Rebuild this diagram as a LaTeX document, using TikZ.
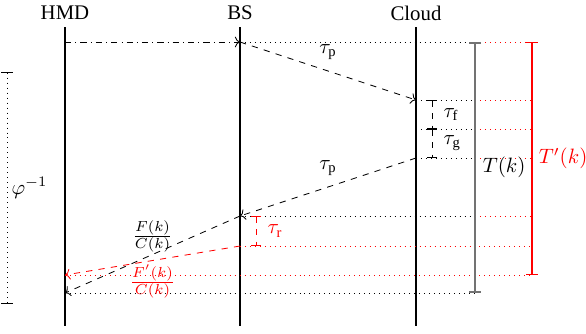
\documentclass[tikz,border=0pt]{standalone}
\usepackage{fontspec}
\setmainfont{Liberation Serif}
\usepackage{amsmath}
\usetikzlibrary{arrows.meta}

\begin{document}
\begin{tikzpicture}[
  x=0.0169cm, y=-0.0169cm,
  life/.style={semithick},
  msg/.style={->, dashed},
  guide/.style={dotted},
  rguide/.style={dotted, red},
  span/.style={{Bar[width=2mm]}-{Bar[width=2mm]}},
  tick/.style={{Bar[width=1.7mm]}-{Bar[width=1.7mm]}, dashed},
]
\useasboundingbox (0,0) rectangle (586,333);

% lifelines
\node (hmd) at (65,13) {HMD};
\node (bs) at (240,13) {BS};
\node (cloud) at (416,13) {Cloud};
\coordinate (hmdtop) at (65,27);  \coordinate (hmdbot) at (65,326);
\coordinate (bstop) at (240,27);  \coordinate (bsbot) at (240,326);
\coordinate (cltop) at (416,27);  \coordinate (clbot) at (416,326);
\draw[life] (hmdtop) -- (hmdbot);
\draw[life] (bstop) -- (bsbot);
\draw[life] (cltop) -- (clbot);

% events
\coordinate (h1) at (65,42);
\coordinate (b1) at (240,42);
\coordinate (c1) at (416,100);
\coordinate (cm) at (416,129);
\coordinate (c2) at (416,158);
\coordinate (b2) at (240,216);
\coordinate (b3) at (240,246);
\coordinate (h2) at (65,275);
\coordinate (h3) at (65,293);

% ends of T(k) and T'(k)
\coordinate (tA) at (475,42);  \coordinate (tB) at (475,293);
\coordinate (rA) at (532,42);  \coordinate (rB) at (532,275);

% guide rows
\draw[guide] (b1) -- (tA);
\draw[rguide] (tA) -- (rA);
\foreach \row/\y in {c1/100, cm/129, c2/158, b2/216} {
  \draw[guide] (\row) -- (475,\y);
  \draw[rguide] (475,\y) -- (532,\y);
}
\draw[rguide] (b3) -- (532,246);
\draw[rguide] (h2) -- (rB);
\draw[guide] (h3) -- (tB);

% messages
\draw[->, dash dot] (h1) -- (b1);
\draw[msg] (b1) -- node[above=2pt] {$\tau_\mathrm{p}$} (c1);
\draw[msg] (c2) -- node[above=2pt] {$\tau_\mathrm{p}$} (b2);
\draw[msg] (b2) -- node[above, inner sep=1pt] {$\frac{F(k)}{C(k)}$} (h3);
\draw[msg, red] (b3) -- node[below, inner sep=2pt] {$\frac{F'(k)}{C(k)}$} (h2);

% processing delays
\coordinate (f1) at (432,100); \coordinate (f2) at (432,129); \coordinate (f3) at (432,158);
\draw[tick] (f1) -- node[right=2pt] {$\tau_\mathrm{f}$} (f2);
\draw[tick] (f2) -- node[right=2pt] {$\tau_\mathrm{g}$} (f3);
\coordinate (r1) at (256,216); \coordinate (r2) at (256,246);
\draw[tick, red] (r1) -- node[right=2pt] {$\tau_\mathrm{r}$} (r2);

% frame periods
\draw[span, black!55, thick] (tA) -- node[right=0pt, black] {$T(k)$} (tB);
\draw[span, red, semithick] (rA) -- node[right=1pt, inner sep=2pt] {$T'(k)$} (rB);

% frame interval
\coordinate (p1) at (7,72); \coordinate (p2) at (7,304);
\draw[span, dotted] (p1) -- node[right=0pt, inner sep=2pt] {$\varphi^{-1}$} (p2);
\end{tikzpicture}
\end{document}
